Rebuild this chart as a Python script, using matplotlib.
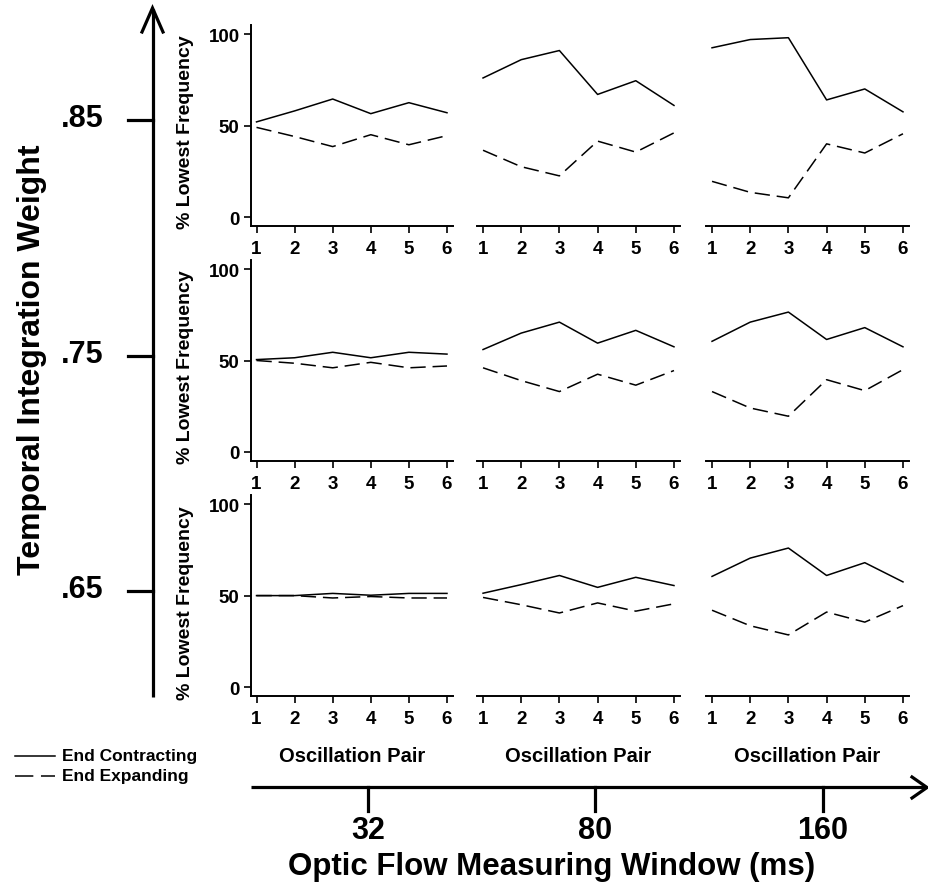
import matplotlib
matplotlib.use("Agg")
import matplotlib.pyplot as plt

plt.rcParams['font.family'] = ['Liberation Sans', 'DejaVu Sans']
plt.rcParams['font.weight'] = 'bold'

# ---------------- data ----------------
pairs = [1, 2, 3, 4, 5, 6]
weights = [".85", ".75", ".65"]          # rows (top to bottom)
windows = ["32", "80", "160"]            # columns (left to right)

contracting_085 = [[52, 58, 64.5, 56.5, 62.5, 57],
                   [76, 86, 91, 67, 74.5, 61],
                   [92.5, 97, 98, 64, 70, 57.5]]
expanding_085 = [[49, 44, 38.5, 45, 39.5, 44.5],
                 [36.5, 27.5, 22.5, 41.5, 35.5, 46],
                 [19.5, 13.5, 10.5, 40, 35, 45.5]]
contracting_075 = [[50.5, 51.5, 54.5, 51.5, 54.5, 53.5],
                   [56, 65, 71, 59.5, 66.5, 57.5],
                   [60.5, 71, 76.5, 61.5, 68, 57.5]]
expanding_075 = [[50, 48.5, 46, 49, 46, 47],
                 [46, 39, 33, 42.5, 36.5, 44.5],
                 [33, 24, 19.5, 39.5, 33.5, 45]]
contracting_065 = [[50, 50, 51.2, 50.2, 51.2, 51.2],
                   [51.3, 56, 61, 54.5, 60, 55.5],
                   [60.5, 70.5, 76, 61, 68, 57.5]]
expanding_065 = [[50, 50, 48.7, 49.5, 48.7, 48.7],
                 [49, 45, 40.5, 46, 41.5, 45.5],
                 [42, 33.5, 28.5, 41, 35.5, 44.5]]

contracting = [contracting_085, contracting_075, contracting_065]
expanding = [expanding_085, expanding_075, expanding_065]
yticks = [0, 50, 100]

# ---------------- layout ----------------
W, H = 929, 887
fig = plt.figure(figsize=(W / 100, H / 100), dpi=100)

def rect(x0, y0, x1, y1):
    return [x0 / W, 1 - y1 / H, (x1 - x0) / W, (y1 - y0) / H]

col_x = [(250.8, 452.7), (477.3, 679.7), (706.3, 908.7)]
row_y = [(25.9, 227.2), (261.0, 462.0), (496.0, 697.2)]

# overlay for arrows and big labels
ov = fig.add_axes([0, 0, 1, 1])
ov.set_xlim(0, W)
ov.set_ylim(H, 0)
ov.axis('off')

LW_DATA = 1.1
TICK_FS = 13.5
for r in range(3):
    for c in range(3):
        x0, x1 = col_x[c]
        y0, y1 = row_y[r]
        ax = fig.add_axes(rect(x0, y0, x1, y1))
        ax.patch.set_alpha(0)
        ax.plot(pairs, contracting[r][c], color='black', lw=LW_DATA)
        ax.plot(pairs, expanding[r][c], color='black', lw=LW_DATA,
                dashes=(10, 4.5))
        ax.set_xlim(0.85, 6.15)
        ax.set_ylim(-5, 105)
        for s in ['top', 'right']:
            ax.spines[s].set_visible(False)
        ax.spines['bottom'].set_linewidth(1.4)
        ax.set_xticks(pairs)
        ax.tick_params(axis='x', length=5, width=1.2, pad=5,
                       labelsize=TICK_FS)
        for lab in ax.get_xticklabels():
            lab.set_fontweight('bold')
        if c == 0:
            ax.spines['left'].set_linewidth(1.4)
            ax.set_yticks(yticks)
            ax.tick_params(axis='y', length=5, width=1.2, pad=3,
                           labelsize=TICK_FS)
            for lab in ax.get_yticklabels():
                lab.set_fontweight('bold')
            ax.set_ylabel("% Lowest Frequency", fontsize=14,
                          fontweight='bold')
            ax.yaxis.set_label_coords(-0.28, 0.47)
        else:
            ax.spines['left'].set_visible(False)
            ax.set_yticks([])

# column captions
for c in range(3):
    x0, x1 = col_x[c]
    ov.text((x0 + x1) / 2, 757, "Oscillation Pair", ha='center',
            va='center', fontsize=14.5, fontweight='bold')

# vertical big arrow
ALW = 2.3
ov.plot([153, 153], [698, 10], color='black', lw=ALW,
        solid_capstyle='butt')
ov.plot([142, 152.5, 163], [33, 9, 33], color='black', lw=ALW,
        solid_joinstyle='miter')
w_ticks_y = [121, 357, 592]
for lab, yy in zip(weights, w_ticks_y):
    ov.plot([128, 153], [yy, yy], color='black', lw=ALW)
    ov.text(104, yy - 2, lab, ha='right', va='center', fontsize=22,
            fontweight='bold')
ov.text(32, 360, "Temporal Integration Weight", rotation=90,
        ha='center', va='center', fontsize=23, fontweight='bold')

# horizontal big arrow
ov.plot([251, 926], [788, 788], color='black', lw=ALW,
        solid_capstyle='butt')
ov.plot([912, 927, 912], [778, 788.5, 799], color='black', lw=ALW,
        solid_joinstyle='miter')
win_ticks_x = [368, 595, 823]
for lab, xx in zip(windows, win_ticks_x):
    ov.plot([xx, xx], [788, 812], color='black', lw=ALW)
    ov.text(xx, 831, lab, ha='center', va='center', fontsize=22,
            fontweight='bold')
ov.text(552, 867, "Optic Flow Measuring Window (ms)", ha='center',
        va='center', fontsize=22.5, fontweight='bold')

# legend
ov.plot([15, 55], [757, 757], color='black', lw=1.1)
ov.plot([15, 55], [777, 777], color='black', lw=1.1, dashes=(12, 5))
ov.text(62, 757, "End Contracting", ha='left', va='center',
        fontsize=12.5, fontweight='bold')
ov.text(62, 777, "End Expanding", ha='left', va='center',
        fontsize=12.5, fontweight='bold')

fig.savefig("out.png", dpi=100)
